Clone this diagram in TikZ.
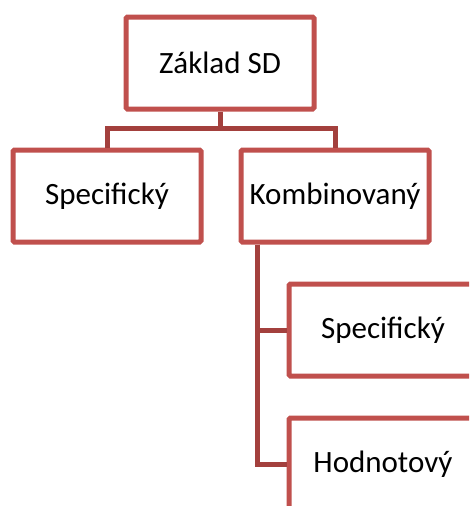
\documentclass[tikz,border=0pt]{standalone}
\usepackage{fontspec}
\setmainfont{Carlito}
\definecolor{boxred}{HTML}{C0504D}
\definecolor{linkred}{HTML}{A3403D}
\tikzset{
  box/.style={draw=boxred, fill=white, line width=5pt, rounded corners=1.5pt,
    minimum width=188pt, minimum height=92pt, inner sep=0pt,
    font=\fontsize{31}{36}\selectfont},
  link/.style={draw=linkred, line width=5pt}
}

\begin{document}
\begin{tikzpicture}[x=1pt, y=-1pt]
\useasboundingbox (0,0) rectangle (469,506);
\clip (0,0) rectangle (469,506);

\node[box] (zaklad) at (220,63) {Základ SD};
\node[box] (spec) at (107,196) {Specifický};
\node[box] (komb) at (335,196) {Kombinovaný};
\node[box] (spec2) at (383,330) {Specifický};
\node[box] (hodn) at (383,464) {Hodnotový};

\coordinate (J) at (220,128);
\coordinate (K) at ([xshift=19pt]komb.south west);

\draw[link] (zaklad.south) -- (J);
\draw[link] (spec.north) |- (J) -| (komb.north);
\draw[link] (K) |- (spec2.west);
\draw[link] (K) |- (hodn.west);

\end{tikzpicture}
\end{document}
